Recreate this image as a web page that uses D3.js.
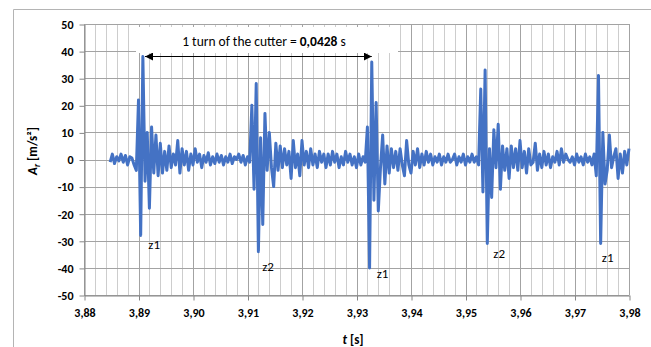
<!DOCTYPE html>
<html>
<head>
<meta charset="utf-8">
<script src="https://cdn.jsdelivr.net/npm/d3@7"></script>
<style>
  html, body { margin: 0; padding: 0; background: #fff; }
  svg { display: block; }
</style>
</head>
<body>
<svg id="chart" width="651" height="347"></svg>
<script>
// Radial acceleration record, sampled every 0.4 ms from t = 3.8848 s
const sampleStart = 3.8848;
const sampleStep = 0.0004;
const accel = [
  -1, 2, -1.5, 1, -0.5, 2, -1, 1.5, -2, 1,
  0.5, -2, -4, 22, -28, 38, -8, 10, -18, 12,
  -5, 9, -6, 6, -5, 3, -4, 5, -3, 2,
  -2, 7, -5, 4, -2, 3, -4, 2, -2, 4,
  -1, 2, -3, 1.5, -1, 2.5, -2, 1, -1.5, 2,
  -1, 1.5, -2, 1, -1, 2, -1.5, 1, 0, 2,
  -1, 1.5, -2, 1, -1, 20, -11, 28, -34, 8,
  -24, 17, -4, 10, -3, -10, 6, -4, 5, -3,
  4, -2, 3, -7, 7, -3, 2, -6, 7, -2,
  3, -3, 4, -2, 2, -3, 3, -1, 2, -3,
  2, -2, 3, -1, 2, -3, 1, -2, 3, -1,
  2, -2, 1, -3, 2, -2, 1, -1, 12, -40,
  36, -15, 21, -19, -3, 9, -9, 5, -5, 4,
  -3, 3, -4, 4, -2, -6, 7, -2, -5, 3,
  -2, 4, -3, 2, -2, 3, -1, 2, -2, 1,
  -1, 2, -2, 1, -1, 2, -1, 0, 2, -2,
  1, -1, 2, -2, 1, -1, 2, -1, 1, -2,
  26, -12, 33, -31, 4, -14, 11, -3, 13, -11,
  5, -4, 4, -7, 5, -3, 4, -4, 7, -3,
  3, -5, 4, -2, -1, 6, -4, 2, -3, 3,
  -2, 2, -3, 1, -1, 3, -2, 4, -1, 2,
  0, -1, 1, -2, 2, -1, 1, -2, 2, -1,
  1, -2, 2, -6, 31, -31, 10, -9, -4, 9,
  -3, 1, 4, -7, 2, -5, 3, -2, 4
];

const xTicks = [3.88, 3.89, 3.90, 3.91, 3.92, 3.93, 3.94, 3.95, 3.96, 3.97, 3.98];
const yTicks = [-50, -40, -30, -20, -10, 0, 10, 20, 30, 40, 50];

// Tooth-impact markers
const impactLabels = ["z1", "z2", "z1", "z2", "z1"];
const impactT = [3.8918, 3.9127, 3.9337, 3.9551, 3.9750];
const impactV = [-33.2, -41.2, -43.9, -36.5, -38.0];

// One revolution of the cutter
const turnSpan = [3.8912, 3.9328];
const turnLevel = 38.2;
const turnPrefix = "1 turn of the cutter = ";
const turnValue = "0,0428";
const turnUnit = " s";

const FONT = "Carlito, Lato, 'Liberation Sans', sans-serif";

const svg = d3.select("#chart");
const x = d3.scaleLinear().domain([3.88, 3.98]).range([84, 629]);
const y = d3.scaleLinear().domain([-50, 50]).range([295, 24]);
const crisp = v => Math.round(v) + 0.5;
const comma = d3.format(".2f");

// chart-area frame
svg.append("path")
  .attr("d", "M13.5,347V9.5H651")
  .attr("fill", "none")
  .attr("stroke", "#b4b4b4");

// gridlines
const grid = svg.append("g");
const minorT = d3.range(0, 51).map(k => 3.88 + k * 0.002).filter((d, k) => k % 5 !== 0);
grid.selectAll("line.minor").data(minorT).join("line")
  .attr("x1", d => crisp(x(d))).attr("x2", d => crisp(x(d)))
  .attr("y1", y(50)).attr("y2", y(-50))
  .attr("stroke", "#cdcdcd");
grid.selectAll("line.majorx").data(xTicks).join("line")
  .attr("x1", d => crisp(x(d))).attr("x2", d => crisp(x(d)))
  .attr("y1", y(50)).attr("y2", y(-50))
  .attr("stroke", "#a3a3a3");
grid.selectAll("line.majory").data(yTicks).join("line")
  .attr("x1", x(3.88)).attr("x2", x(3.98))
  .attr("y1", d => crisp(y(d))).attr("y2", d => crisp(y(d)))
  .attr("stroke", "#a3a3a3");

// axes
const yAxis = svg.append("g")
  .attr("transform", `translate(${crisp(x(3.88))},0.5)`)
  .call(d3.axisLeft(y).tickValues(yTicks).tickSize(5).tickSizeOuter(0).tickPadding(6)
    .tickFormat(d => String(d)));
const xAxis = svg.append("g")
  .attr("transform", `translate(0.5,${crisp(y(-50))})`)
  .call(d3.axisBottom(x).tickValues(xTicks).tickSize(5).tickSizeOuter(0).tickPadding(8)
    .tickFormat(d => comma(d).replace(".", ",")));
[yAxis, xAxis].forEach(a => {
  a.select(".domain").attr("stroke", "#868686");
  a.selectAll(".tick line").attr("stroke", "#868686");
  a.selectAll(".tick text")
    .attr("fill", "#000")
    .style("font-family", FONT)
    .style("font-size", "12px")
    .style("font-weight", "bold");
});

// signal
const line = d3.line()
  .x((d, i) => x(sampleStart + i * sampleStep))
  .y(d => y(d));
svg.append("path")
  .datum(accel)
  .attr("d", line)
  .attr("fill", "none")
  .attr("stroke", "#4472C4")
  .attr("stroke-width", 3)
  .attr("stroke-linejoin", "round");

// revolution annotation
const x0 = x(turnSpan[0]), x1 = x(turnSpan[1]);
svg.append("rect")
  .attr("x", 136).attr("y", 27)
  .attr("width", 262).attr("height", 26)
  .attr("fill", "#fff");

const defs = svg.append("defs");
["start", "end"].forEach(k => {
  defs.append("marker")
    .attr("id", "arrow-" + k)
    .attr("viewBox", "0 0 10 10")
    .attr("refX", k === "end" ? 10 : 0).attr("refY", 5)
    .attr("markerWidth", 8).attr("markerHeight", 8)
    .attr("markerUnits", "userSpaceOnUse")
    .attr("orient", "auto")
    .append("path")
    .attr("d", k === "end" ? "M0,0L10,5L0,10Z" : "M10,0L0,5L10,10Z")
    .attr("fill", "#000");
});
svg.append("line")
  .attr("x1", x0).attr("x2", x1)
  .attr("y1", crisp(y(turnLevel))).attr("y2", crisp(y(turnLevel)))
  .attr("stroke", "#000").attr("stroke-width", 1)
  .attr("marker-start", "url(#arrow-start)")
  .attr("marker-end", "url(#arrow-end)");

const turnText = svg.append("text")
  .attr("x", 264).attr("y", 46)
  .attr("text-anchor", "middle")
  .style("font-family", FONT).style("font-size", "13.5px").attr("fill", "#000");
turnText.append("tspan").text(turnPrefix);
turnText.append("tspan").attr("font-weight", "bold").text(turnValue);
turnText.append("tspan").text(turnUnit);

// impact labels
svg.selectAll("text.impact").data(impactLabels).join("text")
  .attr("class", "impact")
  .attr("x", (d, i) => x(impactT[i]))
  .attr("y", (d, i) => y(impactV[i]))
  .style("font-family", FONT).style("font-size", "13px")
  .attr("fill", "#000")
  .text(d => d);

// axis titles
const yTitle = svg.append("text")
  .attr("transform", "translate(37,151) rotate(-90)")
  .attr("text-anchor", "middle")
  .style("font-family", FONT).style("font-size", "13px").style("font-weight", "bold")
  .attr("fill", "#000");
yTitle.append("tspan").attr("font-style", "italic").text("A");
yTitle.append("tspan").attr("font-style", "italic").attr("font-size", "9px").attr("dy", 3).text("r");
yTitle.append("tspan").attr("dy", -3).text(" [m/s²]");

const xTitle = svg.append("text")
  .attr("x", 353).attr("y", 344)
  .attr("text-anchor", "middle")
  .style("font-family", FONT).style("font-size", "13px").style("font-weight", "bold")
  .attr("fill", "#000");
xTitle.append("tspan").attr("font-style", "italic").text("t");
xTitle.append("tspan").text(" [s]");
</script>
</body>
</html>
